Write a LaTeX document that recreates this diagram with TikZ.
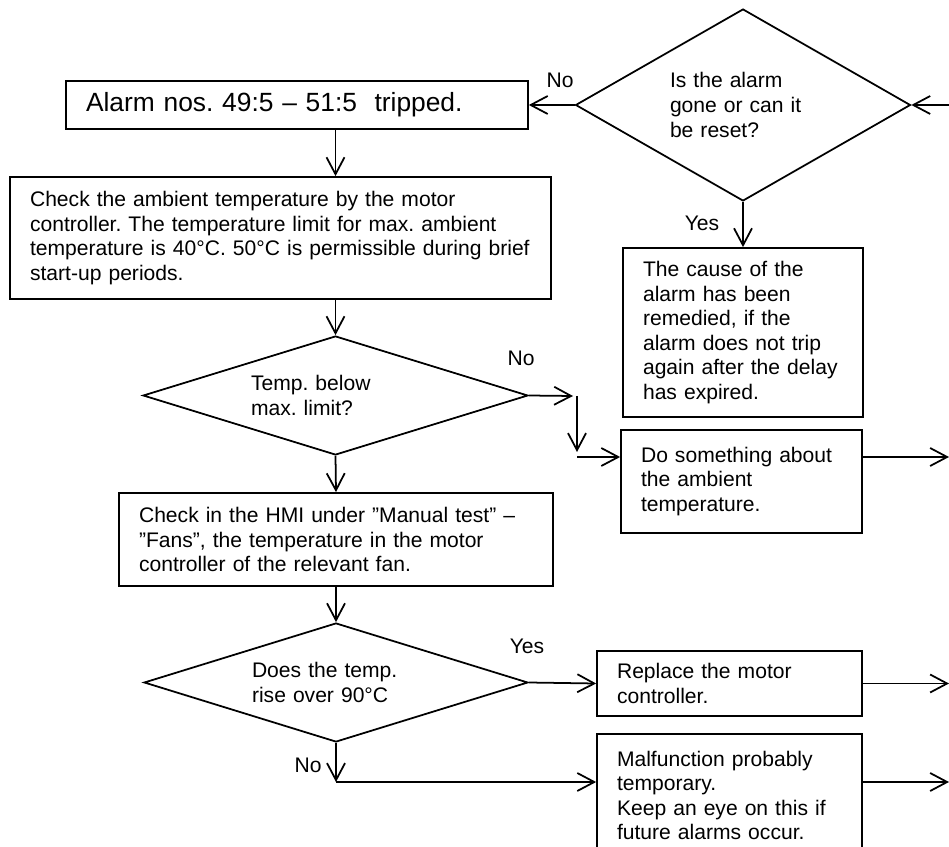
\documentclass[tikz,border=0pt]{standalone}
\usepackage{fontspec}
\setmainfont{Liberation Sans}
\usetikzlibrary{shapes.geometric,arrows.meta}
\frenchspacing

\begin{document}
\begin{tikzpicture}[x=0.02cm,y=-0.02cm,line width=1pt,
    >={Straight Barb[length=0.34cm,width=0.36cm]},
    every node/.style={font=\fontsize{12}{14}\selectfont},
    box/.style={draw,rectangle,align=left,inner xsep=0.4cm,inner ysep=0pt},
    decision/.style={draw,diamond,align=left,inner sep=0pt},
    lbl/.style={inner sep=0pt}]
    \useasboundingbox (0,0) rectangle (949,847);
    % decisions
    \node[decision,shape aspect=1.74,minimum width=6.7cm,minimum height=3.84cm,text width=2.92cm] (dReset) at (743,105) {Is the alarm\\gone or can it\\be reset?};
    \node[decision,shape aspect=3.24,minimum width=7.7cm,minimum height=2.38cm,text width=3.38cm] (dBelow) at (335.5,395.5) {Temp. below\\max. limit?};
    \node[decision,shape aspect=3.24,minimum width=7.68cm,minimum height=2.38cm,text width=3.36cm] (dRise) at (336,682.5) {Does the temp.\\rise over 90°C};
    % boxes
    \node[box,minimum width=9.24cm,minimum height=0.96cm,text width=8.44cm,font=\fontsize{15}{18}\selectfont] (alarm) at (297,105) {Alarm nos. 49:5 – 51:5\ \ tripped.};
    \node[box,minimum width=10.82cm,minimum height=2.44cm,text width=10.02cm] (ambient) at (280.5,238) {Check the ambient temperature by the motor\\controller. The temperature limit for max. ambient\\temperature is 40°C. 50°C is permissible during brief\\start-up periods.};
    \node[box,minimum width=4.8cm,minimum height=3.38cm,text width=4.0cm] (cause) at (743,332.5) {The cause of the\\alarm has been\\remedied, if the\\alarm does not trip\\again after the delay\\has expired.};
    \node[box,minimum width=4.82cm,minimum height=2.06cm,text width=4.02cm] (doAmb) at (741.5,481.5) {Do something about\\the ambient\\temperature.};
    \node[box,minimum width=8.68cm,minimum height=1.86cm,text width=7.88cm] (hmi) at (336,539.5) {Check in the HMI under ”Manual test” –\\”Fans”, the temperature in the motor\\controller of the relevant fan.};
    \node[box,minimum width=5.3cm,minimum height=1.3cm,text width=4.5cm] (replace) at (729.5,683.5) {Replace the motor\\controller.};
    \node[box,minimum width=5.3cm,minimum height=2.46cm,text width=4.5cm] (temp) at (729.5,795.5) {Malfunction probably\\temporary.\\Keep an eye on this if\\future alarms occur.};
    % free ends
    \coordinate (inR) at (949,105);
    \coordinate (outR) at (949,457);
    \coordinate (noA) at (573,396);
    \coordinate (noB) at (577,396);
    \coordinate (noC) at (577,452);
    \coordinate (noD) at (577,457);
    \coordinate (noE) at (336,782);
    % connectors
    \draw[->] (inR) -- (dReset.east);
    \draw[->] (dReset.west) -- (alarm.east);
    \draw[->] (dReset.south) -- (cause.north);
    \draw[->] (dBelow.north |- alarm.south) -- (dBelow.north |- ambient.north);
    \draw[->] (dBelow.north |- ambient.south) -- (dBelow.north);
    \draw[->] (dBelow.south) -- (hmi.north);
    \draw[->] (hmi.south) -- (dRise.north);
    \draw[->] (dBelow.east) -- (noA);
    \draw[->] (noB) -- (noC);
    \draw[->] (noD) -- (doAmb.west |- noD);
    \draw[->] (doAmb.east |- noD) -- (outR);
    \draw[->] (dRise.east) -- (replace.west);
    \draw[->] (replace.east) -- (replace.east -| outR);
    \draw[->] (dRise.south) -- (noE);
    \draw[->] (noE) -- (temp.west |- noE);
    \draw[->] (temp.east |- noE) -- (noE -| outR);
    % labels
    \node[lbl] (noReset) at (560,80) {No};
    \node[lbl] (yesReset) at (702,223) {Yes};
    \node[lbl] (noBelow) at (521,358) {No};
    \node[lbl] (yesRise) at (527,646) {Yes};
    \node[lbl] (noRise) at (308,765) {No};
\end{tikzpicture}
\end{document}
